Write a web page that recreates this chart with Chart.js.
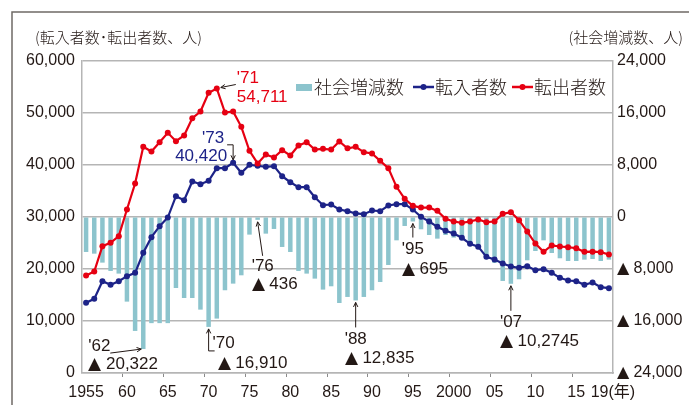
<!DOCTYPE html>
<html>
<head>
<meta charset="utf-8">
<script src="https://cdn.jsdelivr.net/npm/chart.js@4.4.1/dist/chart.umd.min.js"></script>
<style>
  @font-face {
    font-family: 'Tri';
    src: local('DejaVu Sans'), local('DejaVuSans');
    unicode-range: U+25B2;
  }
  html, body { margin: 0; padding: 0; background: #fff; }
  #wrap { position: relative; width: 689px; height: 405px; }
</style>
</head>
<body>
<div id="wrap"><canvas id="chart" width="689" height="405"></canvas></div>
<script>
// categories
const years = [
  1955, 1956, 1957, 1958, 1959, 1960, 1961, 1962, 1963, 1964,
  1965, 1966, 1967, 1968, 1969, 1970, 1971, 1972, 1973, 1974,
  1975, 1976, 1977, 1978, 1979, 1980, 1981, 1982, 1983, 1984,
  1985, 1986, 1987, 1988, 1989, 1990, 1991, 1992, 1993, 1994,
  1995, 1996, 1997, 1998, 1999, 2000, 2001, 2002, 2003, 2004,
  2005, 2006, 2007, 2008, 2009, 2010, 2011, 2012, 2013, 2014,
  2015, 2016, 2017, 2018, 2019
];

// 転入者数
const moveIn = [
  13490, 14260, 17650, 16960, 17650, 18620, 19260, 23110, 26120, 28240,
  29900, 34000, 33230, 36830, 36310, 36950, 39390, 39390, 40420, 38500,
  40030, 39860, 39650, 39780, 37850, 36690, 35730, 35730, 33810, 32270,
  32400, 31440, 31120, 30680, 30550, 31250, 31120, 32210, 32470, 32470,
  31440, 30030, 29130, 28110, 27340, 26830, 26000, 24840, 24300, 22340,
  21830, 21060, 20480, 20230, 20540, 19770, 19960, 19270, 18300, 17790,
  17660, 16960, 17400, 16500, 16310
];

// 転出者数
const moveOut = [
  18750, 19520, 24390, 25040, 26310, 31440, 36440, 43500, 42600, 44380,
  46190, 44580, 45670, 49000, 50280, 53880, 54711, 50100, 50300, 47340,
  42720, 40300, 42020, 41440, 42850, 41830, 43750, 44390, 42980, 43110,
  42980, 44520, 43200, 43500, 42470, 42210, 40800, 39390, 35800, 33490,
  32140, 31820, 31820, 31180, 29650, 29130, 28880, 29130, 29520, 29000,
  29130, 30610, 30930, 29390, 27210, 24900, 23300, 24520, 24330, 24200,
  24000, 23300, 23330, 23240, 22790
];

// 社会増減数
const socialChange = [
  -5380, -5640, -7020, -8300, -8710, -13020, -17530, -20322, -16330, -16330,
  -16330, -10920, -12460, -12460, -14250, -16910, -15630, -11270, -10250, -8970,
  -2710, -436, -2560, -1840, -4610, -5380, -8300, -8710, -9480, -11170,
  -10660, -13230, -12300, -12835, -12300, -11270, -10000, -7380, -3590, -1380,
  -695, -1890, -2770, -3330, -2770, -3170, -2970, -4000, -4610, -6150,
  -7070, -9840, -10275, -9580, -6660, -5230, -3590, -5540, -6350, -6770,
  -6770, -6560, -6460, -6770, -6560
];

// x tick labels shown
const tickYears = [1955, 1960, 1965, 1970, 1975, 1980, 1985, 1990, 1995, 2000, 2005, 2010, 2015, 2019];
const tickNames = ['1955', '60', '65', '70', '75', '80', '85', '90', '95', '2000', '05', '10', '15', '\u200219(年)'];

// callouts: [series, year, line1, line2]
const callouts = [
  ['out', 1971, "'71", '54,711'],
  ['in', 1973, "'73", '40,420'],
  ['social', 1962, "'62", '▲ 20,322'],
  ['social', 1970, "'70", '▲ 16,910'],
  ['social', 1976, "'76", '▲ 436'],
  ['social', 1988, "'88", '▲ 12,835'],
  ['social', 1995, "'95", '▲ 695'],
  ['social', 2007, "'07", '▲ 10,2745']
];

const RED = '#e60012';
const BLUE = '#1d2388';
const TEAL = '#8cc4cd';
const TEXT = '#231815';
const GRID = '#b5b5b5';
const NUM_FONT = "Tri, 'Liberation Sans', Arial, 'Noto Sans CJK JP', sans-serif";
const JP_FONT = "'Noto Sans CJK JP', sans-serif";
const NUM_SIZE = 16;

function fmt(v) {
  return Math.abs(v).toLocaleString('en-US');
}

function arrow(ctx, pts, color) {
  ctx.save();
  ctx.strokeStyle = color;
  ctx.lineWidth = 1;
  ctx.beginPath();
  ctx.moveTo(pts[0][0], pts[0][1]);
  for (let i = 1; i < pts.length; i++) ctx.lineTo(pts[i][0], pts[i][1]);
  ctx.stroke();
  const [x1, y1] = pts[pts.length - 2];
  const [x2, y2] = pts[pts.length - 1];
  const a = Math.atan2(y2 - y1, x2 - x1);
  ctx.beginPath();
  ctx.moveTo(x2 - 5 * Math.cos(a - 0.45), y2 - 5 * Math.sin(a - 0.45));
  ctx.lineTo(x2, y2);
  ctx.lineTo(x2 - 5 * Math.cos(a + 0.45), y2 - 5 * Math.sin(a + 0.45));
  ctx.stroke();
  ctx.restore();
}

const decor = {
  id: 'decor',
  beforeDraw(chart) {
    const ctx = chart.ctx;
    ctx.save();
    ctx.fillStyle = '#fff';
    ctx.fillRect(0, 0, chart.width, chart.height);
    ctx.strokeStyle = '#6f6a65';
    ctx.lineWidth = 1.5;
    ctx.beginPath();
    ctx.moveTo(12, chart.height);
    ctx.lineTo(12, 12);
    ctx.lineTo(chart.width, 12);
    ctx.stroke();
    ctx.restore();
  },
  afterDraw(chart) {
    const ctx = chart.ctx;
    const area = chart.chartArea;
    ctx.save();

    // axis titles
    ctx.fillStyle = TEXT;
    ctx.font = '300 15px ' + JP_FONT;
    ctx.textBaseline = 'middle';
    ctx.textAlign = 'left';
    ctx.fillText('(転入者数･転出者数、人)', 35, 37);
    ctx.textAlign = 'right';
    ctx.fillText('(社会増減数、人)', 683, 37);

    // legend
    const ly = area.top + 26;
    ctx.font = '300 18px ' + JP_FONT;
    ctx.textAlign = 'left';
    ctx.fillStyle = TEAL;
    ctx.fillRect(296, ly - 3, 16, 7);
    ctx.fillStyle = TEXT;
    ctx.fillText('社会増減数', 314, ly);
    [[BLUE, 413, '転入者数'], [RED, 512, '転出者数']].forEach(([c, x, t]) => {
      ctx.strokeStyle = c;
      ctx.lineWidth = 2.5;
      ctx.beginPath();
      ctx.moveTo(x, ly);
      ctx.lineTo(x + 21, ly);
      ctx.stroke();
      ctx.fillStyle = c;
      ctx.beginPath();
      ctx.arc(x + 10.5, ly, 3, 0, Math.PI * 2);
      ctx.fill();
      ctx.fillStyle = TEXT;
      ctx.fillText(t, x + 22, ly);
    });

    // callouts
    const xs = chart.scales.x;
    const yl = chart.scales.y;
    const yr = chart.scales.y1;
    ctx.font = '17px ' + NUM_FONT;
    ctx.textBaseline = 'top';
    callouts.forEach(([series, year, t1, t2]) => {
      const i = years.indexOf(year);
      const px = xs.getPixelForValue(i);
      let py;
      if (series === 'out') py = yl.getPixelForValue(moveOut[i]);
      else if (series === 'in') py = yl.getPixelForValue(moveIn[i]);
      else py = yr.getPixelForValue(socialChange[i]);

      if (series === 'out') {
        ctx.fillStyle = RED;
        ctx.textAlign = 'left';
        ctx.fillText(t1, px + 20, py - 19);
        ctx.fillText(t2, px + 20, py);
        arrow(ctx, [[px + 19, py - 4], [px + 4, py - 1]], TEXT);
      } else if (series === 'in') {
        ctx.fillStyle = BLUE;
        ctx.textAlign = 'right';
        ctx.fillText(t1, px - 9, py - 33);
        ctx.fillText(t2, px - 6, py - 15);
        arrow(ctx, [[px - 6, py - 18], [px, py - 18], [px, py - 3]], TEXT);
      } else {
        ctx.fillStyle = TEXT;
        ctx.textAlign = 'left';
        if (year === 1962) {
          ctx.fillText(t1, px - 55, py - 11);
          ctx.fillText(t2, px - 55, py + 7);
          arrow(ctx, [[px - 33, py + 4], [px - 2, py]], TEXT);
        } else if (year === 1970) {
          ctx.fillText(t1, px + 4, py + 8);
          ctx.fillText(t2, px + 9, py + 28);
          arrow(ctx, [[px + 6, py + 24], [px, py + 24], [px, py + 2]], TEXT);
        } else if (year === 1976) {
          ctx.fillText(t1, px - 6, py + 38);
          ctx.fillText(t2, px - 6, py + 56);
          arrow(ctx, [[px + 5, py + 36], [px, py + 2]], TEXT);
        } else {
          ctx.fillText(t1, px - 11, py + (year === 1995 ? 19 : 30));
          ctx.fillText(t2, px - 11, py + (year === 1995 ? 39 : 49));
          arrow(ctx, [[px, py + (year === 1995 ? 16 : 27)], [px, py + 2]], TEXT);
        }
      }
    });
    ctx.restore();
  }
};

const ctx = document.getElementById('chart').getContext('2d');
const chart = new Chart(ctx, {
  data: {
    labels: years,
    datasets: [
      {
        type: 'line',
        label: '転出者数',
        data: moveOut,
        yAxisID: 'y',
        borderColor: RED,
        backgroundColor: RED,
        borderWidth: 2.2,
        pointRadius: 3,
        pointBorderWidth: 0,
        pointBackgroundColor: RED,
        order: 1
      },
      {
        type: 'line',
        label: '転入者数',
        data: moveIn,
        yAxisID: 'y',
        borderColor: BLUE,
        backgroundColor: BLUE,
        borderWidth: 2.2,
        pointRadius: 3,
        pointBorderWidth: 0,
        pointBackgroundColor: BLUE,
        order: 2
      },
      {
        type: 'bar',
        label: '社会増減数',
        data: socialChange,
        yAxisID: 'y1',
        backgroundColor: TEAL,
        barPercentage: 0.55,
        categoryPercentage: 1,
        order: 3
      }
    ]
  },
  options: {
    responsive: false,
    animation: false,
    devicePixelRatio: 1,
    layout: { padding: { top: 61, left: 0, right: 0, bottom: 0 } },
    plugins: {
      legend: { display: false },
      tooltip: { enabled: false }
    },
    scales: {
      x: {
        offset: true,
        grid: {
          offset: true,
          drawOnChartArea: false,
          tickLength: 4,
          lineWidth: 1,
          color: c => (c.index % 5 === 0 && c.index > 0) ? '#8a8a8a' : 'rgba(0,0,0,0)'
        },
        border: { color: GRID, width: 1.5 },
        ticks: {
          autoSkip: false,
          maxRotation: 0,
          padding: 6,
          color: TEXT,
          font: { family: NUM_FONT, size: NUM_SIZE },
          callback: (v, i) => {
            const k = tickYears.indexOf(years[i]);
            return k >= 0 ? tickNames[k] : '';
          }
        },
        afterFit: s => { s.height = 32; }
      },
      y: {
        position: 'left',
        min: 0,
        max: 60000,
        grid: { color: GRID, lineWidth: 1.5, drawTicks: false },
        border: { color: GRID, width: 1.5 },
        ticks: {
          stepSize: 10000,
          padding: 7,
          color: TEXT,
          font: { family: NUM_FONT, size: NUM_SIZE },
          callback: v => fmt(v)
        },
        afterFit: s => { s.width = 82; }
      },
      y1: {
        position: 'right',
        min: -24000,
        max: 24000,
        grid: { drawOnChartArea: false, drawTicks: false },
        border: { color: GRID, width: 1.5 },
        ticks: {
          stepSize: 8000,
          padding: 4,
          color: TEXT,
          font: { family: NUM_FONT, size: NUM_SIZE },
          callback: v => (v < 0 ? '▲ ' : '') + fmt(v)
        },
        afterFit: s => { s.width = 76; }
      }
    }
  },
  plugins: [decor]
});

document.fonts.load('16px Tri', '▲').then(() => chart.update());
</script>
</body>
</html>
